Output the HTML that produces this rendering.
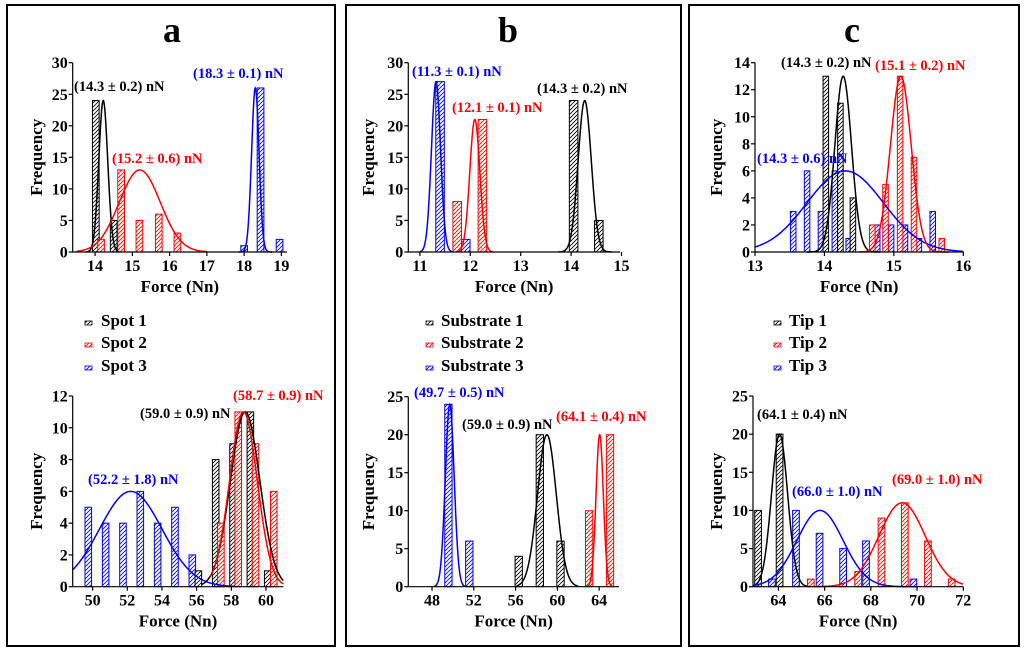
<!DOCTYPE html>
<html><head><meta charset="utf-8"><style>
html,body{margin:0;padding:0;background:#fff;}
svg{display:block;font-family:"Liberation Serif",serif;font-weight:bold;}
</style></head><body>
<svg id="fig" width="1024" height="654" viewBox="0 0 1024 654">
<defs>
<pattern id="h-black" width="4" height="4" patternUnits="userSpaceOnUse"><rect width="4" height="4" fill="#fff"/><path d="M0,4 L4,0 M-1,1 L1,-1 M3,5 L5,3" stroke="#000" stroke-width="0.8"/></pattern>
<pattern id="h-red" width="4" height="4" patternUnits="userSpaceOnUse"><rect width="4" height="4" fill="#fff"/><path d="M0,4 L4,0 M-1,1 L1,-1 M3,5 L5,3" stroke="#f00" stroke-width="0.8"/></pattern>
<pattern id="h-blue" width="4" height="4" patternUnits="userSpaceOnUse"><rect width="4" height="4" fill="#fff"/><path d="M0,4 L4,0 M-1,1 L1,-1 M3,5 L5,3" stroke="#00f" stroke-width="0.8"/></pattern>
</defs>
<rect x="7" y="5" width="328" height="641" fill="none" stroke="#000" stroke-width="2"/>
<rect x="346" y="5" width="335" height="641" fill="none" stroke="#000" stroke-width="2"/>
<rect x="689" y="5" width="330" height="641" fill="none" stroke="#000" stroke-width="2"/>
<text x="172" y="42" font-size="36" text-anchor="middle">a</text>
<text x="508" y="42" font-size="36" text-anchor="middle">b</text>
<text x="852" y="42" font-size="36" text-anchor="middle">c</text>

<g font-size="17">
<rect x="85" y="321" width="7" height="4" fill="url(#h-black)" stroke="#000" stroke-width="0.8"/><text x="101" y="326">Spot 1</text>
<rect x="85" y="343" width="7" height="4" fill="url(#h-red)" stroke="#f00" stroke-width="0.8"/><text x="101" y="348">Spot 2</text>
<rect x="85" y="366" width="7" height="4" fill="url(#h-blue)" stroke="#00f" stroke-width="0.8"/><text x="101" y="371">Spot 3</text>
</g>
<g font-size="17">
<rect x="426" y="321" width="7" height="4" fill="url(#h-black)" stroke="#000" stroke-width="0.8"/><text x="441" y="326">Substrate 1</text>
<rect x="426" y="343" width="7" height="4" fill="url(#h-red)" stroke="#f00" stroke-width="0.8"/><text x="441" y="348">Substrate 2</text>
<rect x="426" y="366" width="7" height="4" fill="url(#h-blue)" stroke="#00f" stroke-width="0.8"/><text x="441" y="371">Substrate 3</text>
</g>
<g font-size="17">
<rect x="774" y="321" width="7" height="4" fill="url(#h-black)" stroke="#000" stroke-width="0.8"/><text x="789" y="326">Tip 1</text>
<rect x="774" y="343" width="7" height="4" fill="url(#h-red)" stroke="#f00" stroke-width="0.8"/><text x="789" y="348">Tip 2</text>
<rect x="774" y="366" width="7" height="4" fill="url(#h-blue)" stroke="#00f" stroke-width="0.8"/><text x="789" y="371">Tip 3</text>
</g>
</svg>
<script>
// ---- Data ----
const aTopXTicks=[14,15,16,17,18,19]; const aTopYTicks=[0,5,10,15,20,25,30];
const aTopBlackX=[14.02,14.5]; const aTopBlackH=[24,5];
const aTopRedX=[14.16,14.7,15.19,15.71,16.21]; const aTopRedH=[2,13,5,6,3];
const aTopBlueX=[18.0,18.44,18.95]; const aTopBlueH=[1,26,2];
const aTopFitBlack=[14.22,0.12,24,13.75,14.65]; const aTopFitRed=[15.2,0.55,13,13.5,17.0]; const aTopFitBlue=[18.3,0.1,26,17.85,18.75];

const aBotXTicks=[50,52,54,56,58,60]; const aBotYTicks=[0,2,4,6,8,10,12];
const aBotBlueX=[49.75,50.75,51.75,52.75,53.75,54.75,55.75]; const aBotBlueH=[5,4,4,6,4,5,2];
const aBotBlackX=[56.1,57.1,58.1,59.1,60.1]; const aBotBlackH=[1,8,9,11,1];
const aBotRedX=[57.4,58.4,59.4,60.45]; const aBotRedH=[4,11,9,6];
const aBotFitBlue=[52.2,1.8,6,48.85,58.2]; const aBotFitBlack=[58.8,0.85,11,56.3,61]; const aBotFitRed=[58.7,0.8,11,56.8,61];

const bTopXTicks=[11,12,13,14,15]; const bTopYTicks=[0,5,10,15,20,25,30];
const bTopBlueX=[11.4,11.91]; const bTopBlueH=[27,2];
const bTopRedX=[11.74,12.24]; const bTopRedH=[8,21];
const bTopBlackX=[14.05,14.55]; const bTopBlackH=[24,5];
const bTopFitBlue=[11.32,0.09,27,11.0,11.65]; const bTopFitRed=[12.09,0.1,21,11.75,12.45]; const bTopFitBlack=[14.27,0.13,24,13.75,14.8];

const bBotXTicks=[48,52,56,60,64]; const bBotYTicks=[0,5,10,15,20,25];
const bBotBlueX=[49.57,51.57]; const bBotBlueH=[24,6];
const bBotBlackX=[56.3,58.32,60.3]; const bBotBlackH=[4,20,6];
const bBotRedX=[63.04,65.04]; const bBotRedH=[10,20];
const bBotFitBlue=[49.7,0.42,24,48.2,51.2]; const bBotFitBlack=[59.0,0.9,20,56.1,62]; const bBotFitRed=[64.05,0.35,20,62.8,65.3];

const cTopXTicks=[13,14,15,16]; const cTopYTicks=[0,2,4,6,8,10,12,14];
const cTopBlackX=[14.02,14.23,14.41]; const cTopBlackH=[13,11,4];
const cTopBlueX=[13.55,13.75,13.95,14.15,14.35,14.76,14.96,15.16,15.36,15.56]; const cTopBlueH=[3,6,3,6,1,2,2,2,1,3];
const cTopRedX=[14.69,14.88,15.09,15.29,15.69]; const cTopRedH=[2,5,13,7,1];
const cTopFitBlack=[14.27,0.12,13,13.75,14.8]; const cTopFitRed=[15.1,0.15,13,14.5,15.8]; const cTopFitBlue=[14.3,0.55,6,13,16];

const cBotXTicks=[64,66,68,70,72]; const cBotYTicks=[0,5,10,15,20,25];
const cBotBlackX=[63.12,64.05]; const cBotBlackH=[10,20];
const cBotBlueX=[63.72,64.76,65.78,66.8,67.79,69.84]; const cBotBlueH=[1,10,7,5,6,1];
const cBotRedX=[65.4,67.45,68.46,69.47,70.47,71.5]; const cBotRedH=[1,2,9,11,6,1];
const cBotFitBlack=[64.05,0.35,20,62.9,65.4]; const cBotFitBlue=[65.8,1.0,10,62.9,70]; const cBotFitRed=[69.35,1.0,11,65.5,72];

const NS='http://www.w3.org/2000/svg';
const svg=document.getElementById('fig');
const COL={black:'#000',red:'#f00',blue:'#00f'};
function el(tag,attrs,parent){const e=document.createElementNS(NS,tag);for(const k in attrs)e.setAttribute(k,attrs[k]);(parent||svg).appendChild(e);return e;}

function chart(id,g,xt,yt,bars,fits,labels){
  const grp=el('g',{});
  
  
  const sx=v=>g.pl+(v-g.d0)/(g.d1-g.d0)*(g.pr-g.pl);
  const sy=v=>g.pb-v/g.ymax*(g.pb-g.pt);
  bars.forEach(b=>{
    b.x.forEach((xv,i)=>{
      const x0=sx(xv-g.bw/2),x1=sx(xv+g.bw/2);
      const r=el('rect',{x:x0,y:sy(b.h[i]),width:x1-x0,height:sy(0)-sy(b.h[i]),fill:'url(#h-'+b.c+')',stroke:COL[b.c],'stroke-width':1},grp);
      
      
    });
  });
  fits.forEach(f=>{
    const p=f.p;let d='';const n=120;
    for(let i=0;i<=n;i++){const xv=p[3]+(p[4]-p[3])*i/n;const yv=p[2]*Math.exp(-Math.pow(xv-p[0],2)/(2*p[1]*p[1]));d+=(i?'L':'M')+sx(xv).toFixed(2)+','+sy(yv).toFixed(2);}
    const pa=el('path',{d:d,fill:'none',stroke:COL[f.c],'stroke-width':1.5},grp);
    
    
  });
  const ax=el('path',{d:'M'+g.pl+','+g.pt+'L'+g.pl+','+g.pb+'L'+g.pr+','+g.pb,fill:'none',stroke:'#000','stroke-width':1.2},grp);
  
  
  xt.forEach(v=>{
    el('line',{x1:sx(v),x2:sx(v),y1:g.pb,y2:g.pb+4,stroke:'#000','stroke-width':1.2},grp);
    const t=el('text',{x:sx(v),y:g.pb+19,'font-size':16,'text-anchor':'middle'},grp);t.textContent=v;
    
    
  });
  yt.forEach(v=>{
    el('line',{x1:g.pl-4,x2:g.pl,y1:sy(v),y2:sy(v),stroke:'#000','stroke-width':1.2},grp);
    const t=el('text',{x:g.pl-5,y:sy(v)+5.5,'font-size':16,'text-anchor':'end'},grp);t.textContent=v;
    
    
  });
  const xtT=el('text',{x:(g.pl+g.pr)/2,y:g.pb+40,'font-size':17,'text-anchor':'middle'},grp);xtT.textContent='Force (Nn)';
  
  
  const yc=(g.pt+g.pb)/2;
  const ytT=el('text',{x:g.ytx,y:yc,'font-size':17,'text-anchor':'middle',transform:'rotate(-90 '+g.ytx+' '+yc+')'},grp);ytT.textContent='Frequency';
  
  
  labels.forEach(l=>{
    const t=el('text',{x:l[0],y:l[1],'font-size':14.5,fill:COL[l[3]]},grp);t.textContent=l[2];
    
    
  });
}

chart('a-top',{pl:72.7,pr:287,d0:13.4,d1:19.15,pt:62.7,pb:252,ymax:30,bw:0.18,ytx:42},aTopXTicks,aTopYTicks,
 [{x:aTopBlackX,h:aTopBlackH,c:'black'},{x:aTopRedX,h:aTopRedH,c:'red'},{x:aTopBlueX,h:aTopBlueH,c:'blue'}],
 [{p:aTopFitBlack,c:'black'},{p:aTopFitRed,c:'red'},{p:aTopFitBlue,c:'blue'}],
 [[74,91,'(14.3 ± 0.2) nN','black'],[193,78,'(18.3 ± 0.1) nN','blue'],[112,163,'(15.2 ± 0.6) nN','red']]);
chart('a-bottom',{pl:72.7,pr:283.3,d0:48.85,d1:61,pt:396,pb:586.7,ymax:12,bw:0.38,ytx:42},aBotXTicks,aBotYTicks,
 [{x:aBotBlueX,h:aBotBlueH,c:'blue'},{x:aBotBlackX,h:aBotBlackH,c:'black'},{x:aBotRedX,h:aBotRedH,c:'red'}],
 [{p:aBotFitBlue,c:'blue'},{p:aBotFitBlack,c:'black'},{p:aBotFitRed,c:'red'}],
 [[233,400,'(58.7 ± 0.9) nN','red'],[140,418,'(59.0 ± 0.9) nN','black'],[88,484,'(52.2 ± 1.8) nN','blue']]);
chart('b-top',{pl:408.3,pr:620,d0:10.77,d1:14.97,pt:62.7,pb:252,ymax:30,bw:0.17,ytx:374},bTopXTicks,bTopYTicks,
 [{x:bTopBlueX,h:bTopBlueH,c:'blue'},{x:bTopRedX,h:bTopRedH,c:'red'},{x:bTopBlackX,h:bTopBlackH,c:'black'}],
 [{p:bTopFitBlue,c:'blue'},{p:bTopFitRed,c:'red'},{p:bTopFitBlack,c:'black'}],
 [[412,76,'(11.3 ± 0.1) nN','blue'],[452,112,'(12.1 ± 0.1) nN','red'],[537,93,'(14.3 ± 0.2) nN','black']]);
chart('b-bottom',{pl:408.3,pr:619,d0:45.73,d1:65.9,pt:396.7,pb:586.7,ymax:25,bw:0.7,ytx:374},bBotXTicks,bBotYTicks,
 [{x:bBotBlueX,h:bBotBlueH,c:'blue'},{x:bBotBlackX,h:bBotBlackH,c:'black'},{x:bBotRedX,h:bBotRedH,c:'red'}],
 [{p:bBotFitBlue,c:'blue'},{p:bBotFitBlack,c:'black'},{p:bBotFitRed,c:'red'}],
 [[414,397,'(49.7 ± 0.5) nN','blue'],[462,429,'(59.0 ± 0.9) nN','black'],[556,421,'(64.1 ± 0.4) nN','red']]);
chart('c-top',{pl:755,pr:963.3,d0:13,d1:16,pt:62.7,pb:252,ymax:14,bw:0.08,ytx:722},cTopXTicks,cTopYTicks,
 [{x:cTopBlueX,h:cTopBlueH,c:'blue'},{x:cTopBlackX,h:cTopBlackH,c:'black'},{x:cTopRedX,h:cTopRedH,c:'red'}],
 [{p:cTopFitBlue,c:'blue'},{p:cTopFitBlack,c:'black'},{p:cTopFitRed,c:'red'}],
 [[781,67,'(14.3 ± 0.2) nN','black'],[875,70,'(15.1 ± 0.2) nN','red'],[757,163,'(14.3 ± 0.6) nN','blue']]);
chart('c-bottom',{pl:753,pr:963.3,d0:62.9,d1:72,pt:396,pb:586.7,ymax:25,bw:0.29,ytx:722},cBotXTicks,cBotYTicks,
 [{x:cBotBlackX,h:cBotBlackH,c:'black'},{x:cBotBlueX,h:cBotBlueH,c:'blue'},{x:cBotRedX,h:cBotRedH,c:'red'}],
 [{p:cBotFitBlack,c:'black'},{p:cBotFitBlue,c:'blue'},{p:cBotFitRed,c:'red'}],
 [[757,419,'(64.1 ± 0.4) nN','black'],[792,496,'(66.0 ± 1.0) nN','blue'],[892,484,'(69.0 ± 1.0) nN','red']]);
</script>
</body></html>
